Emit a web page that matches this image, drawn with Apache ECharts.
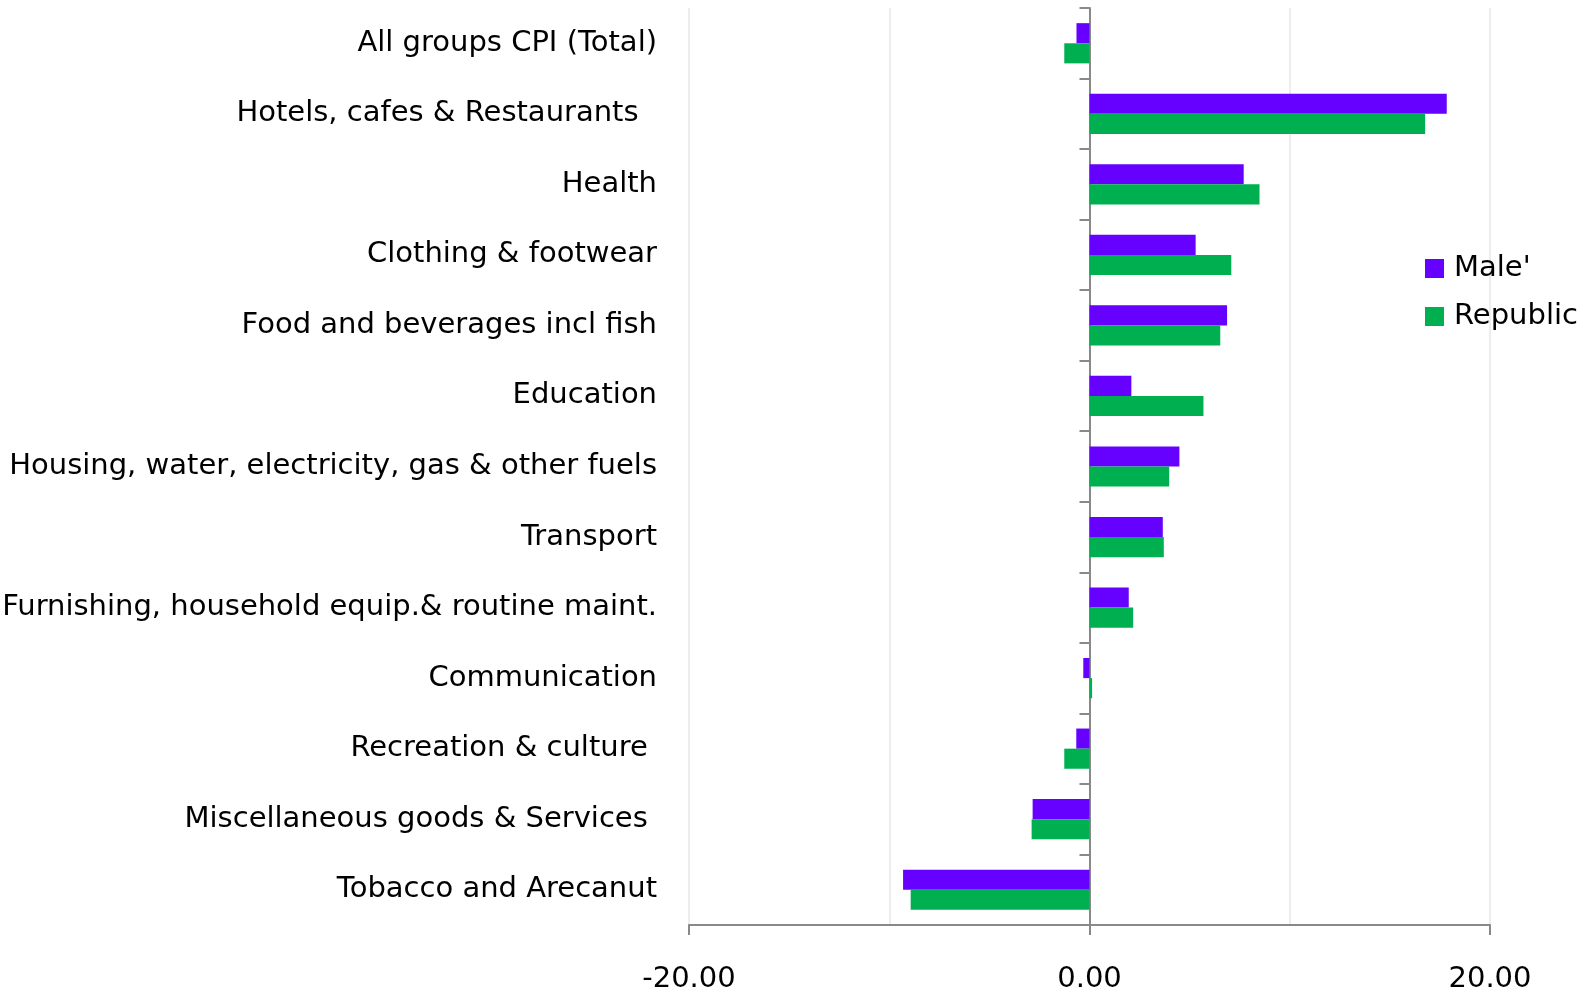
<!DOCTYPE html>
<html>
<head>
<meta charset="utf-8">
<title>CPI change by group</title>
<script src="https://cdn.jsdelivr.net/npm/echarts@6/dist/echarts.min.js"></script>
<style>
  html, body { margin: 0; padding: 0; background: #fff; }
  #chart { width: 1587px; height: 994px; }
</style>
</head>
<body>
<div id="chart"></div>
<script>
// categories, top to bottom
const categories = [
  'All groups CPI (Total)',
  'Hotels, cafes & Restaurants  ',
  'Health',
  'Clothing & footwear',
  'Food and beverages incl fish',
  'Education',
  'Housing, water, electricity, gas & other fuels',
  'Transport',
  'Furnishing, household equip.& routine maint.',
  'Communication',
  'Recreation & culture ',
  'Miscellaneous goods & Services ',
  'Tobacco and Arecanut'
];

const maleValues = [-0.65, 17.84, 7.70, 5.30, 6.87, 2.09, 4.49, 3.66, 1.96, -0.31, -0.66, -2.84, -9.31];
const republicValues = [-1.26, 16.76, 8.49, 7.08, 6.53, 5.69, 3.98, 3.71, 2.18, 0.13, -1.26, -2.89, -8.93];

const seriesNames = ["Male'", 'Republic'];
const seriesColors = ['#6600FF', '#00B050'];

const FONT = 'DejaVu Sans';
const FONT_SIZE = 29;

const chart = echarts.init(document.getElementById('chart'));

// 两个y轴：一个只放标签（左侧），一个放在0处画轴线和刻度
const option = {
  animation: false,
  textStyle: { fontFamily: FONT },
  grid: { left: 689, right: 97, top: 8, bottom: 69, outerBoundsMode: 'none' },
  legend: {
    orient: 'vertical',
    left: 1420,
    top: 249,
    itemWidth: 19,
    itemHeight: 19,
    itemGap: 19,
    icon: 'rect',
    textStyle: { fontFamily: FONT, fontSize: FONT_SIZE, color: '#000', padding: [0, 0, 0, 5] },
    data: seriesNames
  },
  xAxis: {
    type: 'value',
    min: -20,
    max: 20,
    interval: 20,
    axisLine: { show: true, lineStyle: { color: '#898989', width: 2 } },
    axisTick: { show: true, length: 10, lineStyle: { color: '#898989', width: 2 } },
    axisLabel: {
      color: '#000', fontSize: FONT_SIZE, fontFamily: FONT, margin: 40,
      formatter: v => v.toFixed(2)
    },
    splitLine: { show: true, lineStyle: { color: '#EDEDED', width: 2 } },
    minorTick: { show: false, splitNumber: 2 },
    minorSplitLine: { show: true, lineStyle: { color: '#EDEDED', width: 2 } }
  },
  yAxis: [
    {
      type: 'category',
      data: categories,
      inverse: true,
      position: 'left',
      axisLine: { show: false, onZero: false },
      axisTick: { show: false },
      axisLabel: { color: '#000', fontSize: FONT_SIZE, fontFamily: FONT, margin: 32 }
    },
    {
      type: 'category',
      data: categories,
      inverse: true,
      position: 'left',
      axisLine: { show: true, onZero: true, lineStyle: { color: '#898989', width: 2 } },
      axisTick: { show: true, length: 10, lineStyle: { color: '#898989', width: 2 } },
      axisLabel: { show: false }
    }
  ],
  series: [
    {
      name: seriesNames[0],
      type: 'bar',
      yAxisIndex: 0,
      data: maleValues,
      barGap: '0%',
      barCategoryGap: '43%',
      itemStyle: { color: seriesColors[0] }
    },
    {
      name: seriesNames[1],
      type: 'bar',
      yAxisIndex: 0,
      data: republicValues,
      barGap: '0%',
      barCategoryGap: '43%',
      itemStyle: { color: seriesColors[1] }
    }
  ]
};

chart.setOption(option);
</script>
</body>
</html>
